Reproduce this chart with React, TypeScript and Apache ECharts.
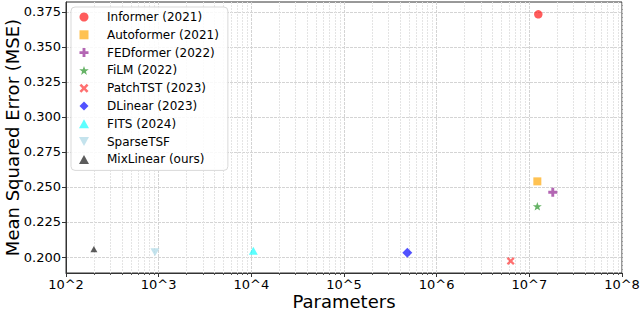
import React, { useEffect, useRef } from "react";
import * as echarts from "echarts";

const models = [
  "Informer (2021)",
  "Autoformer (2021)",
  "FEDformer (2022)",
  "FiLM (2022)",
  "PatchTST (2023)",
  "DLinear (2023)",
  "FITS (2024)",
  "SparseTSF",
  "MixLinear (ours)",
];
const params = [1.25e7, 1.22e7, 1.79e7, 1.22e7, 6.29e6, 4.82e5, 1.05e4, 912, 200];
const mse = [0.3732, 0.254, 0.2462, 0.2362, 0.1971, 0.2031, 0.2045, 0.2034, 0.2057];

const xTickValues = [1e2, 1e3, 1e4, 1e5, 1e6, 1e7, 1e8];
const xTickLabels = ["10^2", "10^3", "10^4", "10^5", "10^6", "10^7", "10^8"];
const yTickValues = [0.2, 0.225, 0.25, 0.275, 0.3, 0.325, 0.35, 0.375];
const yTickLabels = ["0.200", "0.225", "0.250", "0.275", "0.300", "0.325", "0.350", "0.375"];

const SYM = {
  circle: "circle",
  square: "path://M0,0H10V10H0Z",
  plus: "path://M3.4,0H6.6V3.4H10V6.6H6.6V10H3.4V6.6H0V3.4H3.4Z",
  star: "path://M5,0L6.176,3.382L9.755,3.455L6.902,5.618L7.939,9.045L5,7L2.061,9.045L3.098,5.618L0.245,3.455L3.824,3.382Z",
  cross: "path://M2,0L5,3L8,0L10,2L7,5L10,8L8,10L5,7L2,10L0,8L3,5L0,2Z",
  diamond: "path://M5,0L10,5L5,10L0,5Z",
  triUp: "path://M5,0L10,9H0Z",
  triDown: "path://M0,0H10L5,9Z",
};
const symbols = [SYM.circle, SYM.square, SYM.plus, SYM.star, SYM.cross, SYM.diamond, SYM.triUp, SYM.triDown, SYM.triUp];
const sizes = [8.5, 8, 9, 9, 8, 10, 9, 9, 7];
const colors = [
  "rgba(255,0,0,0.8)",
  "rgba(255,165,0,0.85)",
  "rgba(128,0,128,0.75)",
  "rgba(0,128,0,0.75)",
  "rgba(255,0,0,0.7)",
  "rgba(0,0,255,0.85)",
  "rgba(0,255,255,0.8)",
  "rgba(173,216,230,0.9)",
  "rgba(0,0,0,0.8)",
];

const FONT = "DejaVu Sans";

export default function App() {
  const ref = useRef<HTMLDivElement>(null);
  useEffect(() => {
    if (!ref.current) return;
    const chart = echarts.init(ref.current, null, { renderer: "svg" });
    const minorValues: number[] = [];
    for (let e = 2; e < 8; e++) {
      for (let m = 2; m <= 9; m++) minorValues.push(m * Math.pow(10, e));
    }
    const labelFor = (v: number) => {
      const e = Math.round(Math.log10(v));
      const i = xTickValues.findIndex((t) => Math.round(Math.log10(t)) === e);
      return i >= 0 ? xTickLabels[i] : "";
    };
    const yLabelFor = (v: number) => {
      let best = 0;
      yTickValues.forEach((t, i) => {
        if (Math.abs(t - v) < Math.abs(yTickValues[best] - v)) best = i;
      });
      return yTickLabels[best];
    };
    chart.setOption({
      animation: false,
      textStyle: { fontFamily: FONT },
      grid: {
        left: 66,
        right: 18,
        top: 2,
        bottom: 37,
        show: true,
        borderColor: "#333",
        borderWidth: 1,
        backgroundColor: "transparent",
        outerBoundsMode: "none",
        containLabel: false,
      },
      legend: {
        orient: "vertical",
        left: 71,
        top: 7,
        padding: [4, 9, 5, 8],
        itemWidth: 20,
        itemHeight: 9,
        itemGap: 5.8,
        symbolKeepAspect: true,
        backgroundColor: "rgba(255,255,255,0.85)",
        borderColor: "#d9d9d9",
        borderWidth: 1,
        borderRadius: 4,
        textStyle: { fontFamily: FONT, fontSize: 12, color: "#000", padding: [0, 0, 0, 8], lineHeight: 12 },
        data: models.map((m, i) => ({ name: m, icon: symbols[i] })),
      },
      xAxis: [
        {
          type: "log",
          logBase: 10,
          min: 100,
          max: 1e8,
          position: "bottom",
          name: "Parameters",
          nameLocation: "middle",
          nameGap: 19,
          nameMoveOverlap: false,
          nameTextStyle: { fontFamily: FONT, fontSize: 18, color: "#000" },
          axisLine: { show: true, lineStyle: { color: "#333", width: 1 } },
          axisTick: { show: true, inside: false, length: 4, lineStyle: { color: "#333" }, customValues: xTickValues },
          axisLabel: {
            show: true,
            fontFamily: FONT,
            fontSize: 13,
            color: "#000",
            margin: 5,
            customValues: xTickValues,
            formatter: (v: number) => labelFor(v),
          },
          splitLine: { show: true, lineStyle: { color: "#d4d4d4", width: 1, type: [3, 1] } },
        },
        {
          type: "log",
          logBase: 10,
          min: 100,
          max: 1e8,
          position: "bottom",
          axisLine: { show: false },
          axisTick: { show: true, inside: false, length: 2, lineStyle: { color: "#555" }, customValues: minorValues },
          axisLabel: { show: false },
          splitLine: { show: true, lineStyle: { color: "#e4e4e4", width: 1, type: [2, 1] } },
        },
      ],
      yAxis: {
        type: "value",
        min: 0.1886,
        max: 0.382,
        name: "Mean Squared Error (MSE)",
        nameLocation: "middle",
        nameGap: 45,
        nameMoveOverlap: false,
        nameTextStyle: { fontFamily: FONT, fontSize: 18, color: "#000" },
        axisLine: { show: true, lineStyle: { color: "#333", width: 1 } },
        axisTick: { show: true, inside: false, length: 4, lineStyle: { color: "#333" }, customValues: yTickValues },
        axisLabel: {
          show: true,
          fontFamily: FONT,
          fontSize: 13,
          color: "#000",
          margin: 5,
          customValues: yTickValues,
          formatter: (v: number) => yLabelFor(v),
        },
        splitLine: { show: true, lineStyle: { color: "#d4d4d4", width: 1, type: [3, 1] } },
      },
      series: models.map((m, i) => ({
        name: m,
        type: "scatter",
        xAxisIndex: 0,
        yAxisIndex: 0,
        symbol: symbols[i],
        symbolSize: sizes[i],
        symbolKeepAspect: true,
        itemStyle: { color: colors[i] },
        data: [[params[i], mse[i]]],
        z: 5,
      })),
    });
    return () => chart.dispose();
  }, []);
  return <div ref={ref} style={{ width: 640, height: 310, position: "absolute", left: 0, top: 0 }} />;
}
